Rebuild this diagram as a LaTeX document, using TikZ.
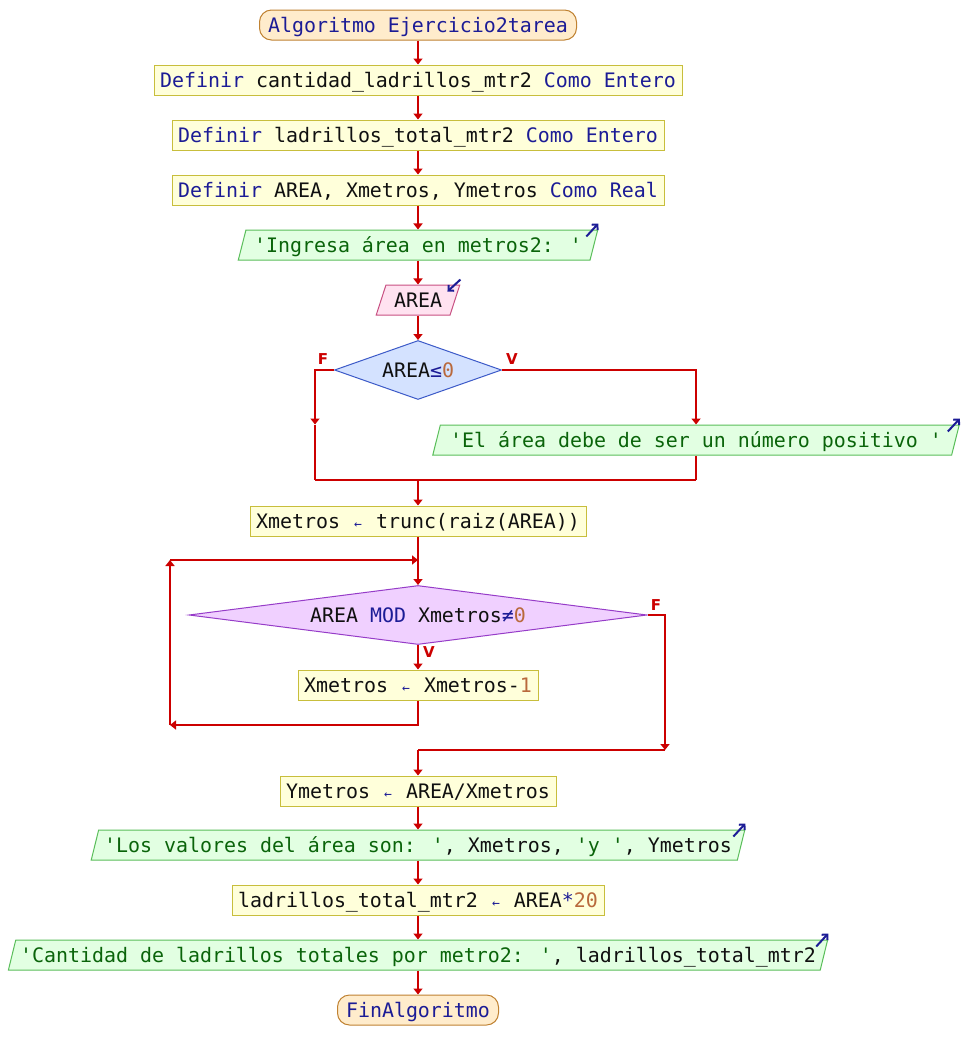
\documentclass[tikz,border=0pt]{standalone}
\usepackage{fontspec}
\newfontfamily\mono{DejaVu Sans Mono}[Ligatures=TeXOff]
\newfontfamily\lblfont{DejaVu Sans}
\usetikzlibrary{shapes.geometric,arrows.meta,calc}

% palette
\definecolor{kwblue}{RGB}{28,28,150}
\definecolor{idc}{RGB}{16,16,16}
\definecolor{strgreen}{RGB}{10,100,10}
\definecolor{numc}{RGB}{185,105,60}
\definecolor{flowred}{RGB}{204,0,0}
\definecolor{termfill}{RGB}{255,236,204}
\definecolor{termline}{RGB}{192,130,50}
\definecolor{procfill}{RGB}{255,255,218}
\definecolor{procline}{RGB}{200,190,60}
\definecolor{outfill}{RGB}{226,255,226}
\definecolor{outline}{RGB}{90,190,90}
\definecolor{infill}{RGB}{255,226,240}
\definecolor{inline}{RGB}{200,80,130}
\definecolor{d1fill}{RGB}{212,226,255}
\definecolor{d1line}{RGB}{60,90,200}
\definecolor{d2fill}{RGB}{240,208,255}
\definecolor{d2line}{RGB}{150,60,200}

% token colouring
\newcommand{\kw}[1]{\textcolor{kwblue}{#1}}
\newcommand{\st}[1]{\textcolor{strgreen}{#1}}
\newcommand{\nm}[1]{\textcolor{numc}{#1}}
\newcommand{\op}[1]{\textcolor{kwblue}{#1}}
\newcommand{\asg}{\textcolor{kwblue}{\makebox[12pt]{\fontsize{13}{13}\selectfont ←}}}

\tikzset{
  base/.style={font=\mono\fontsize{19.93}{24}\selectfont, text=idc, inner sep=0pt,
               minimum height=30pt, text height=17pt, text depth=3pt, line width=1pt},
  term/.style={base, rectangle, rounded corners=12pt, draw=termline, fill=termfill},
  proc/.style={base, rectangle, draw=procline, fill=procfill},
  outp/.style={base, trapezium, trapezium left angle=70, trapezium right angle=110,
               trapezium stretches=true, draw=outline, fill=outfill},
  inp/.style={base, trapezium, trapezium left angle=70, trapezium right angle=110,
              trapezium stretches=true, draw=inline, fill=infill},
  decA/.style={base, diamond, aspect=2.8, minimum height=59pt, draw=d1line, fill=d1fill},
  decB/.style={base, diamond, aspect=7.7, minimum height=59pt, draw=d2line, fill=d2fill},
  flow/.style={draw=flowred, line width=2pt},
  arr/.style={flow, -{Triangle[width=9pt,length=6pt]}},
  lbl/.style={text=flowred, font=\lblfont\bfseries\fontsize{15}{15}\selectfont, inner sep=0pt},
  iomark/.style={draw=kwblue, line width=2pt, -{Straight Barb[length=4pt,width=8pt]}}
}

\begin{document}
\begin{tikzpicture}[x=1pt,y=-1pt]
\useasboundingbox (0,0) rectangle (964,1060);
\fill[white] (0,0) rectangle (964,1060);

% nodes
\node[term, minimum width=317pt] (start) at (418,25) {\kw{Algoritmo Ejercicio2tarea}};
\node[proc, minimum width=528pt] (b2) at (418,80) {\kw{Definir} cantidad\_ladrillos\_mtr2 \kw{Como} \kw{Entero}};
\node[proc, minimum width=492pt] (b3) at (418,135) {\kw{Definir} ladrillos\_total\_mtr2 \kw{Como} \kw{Entero}};
\node[proc, minimum width=492pt] (b4) at (418,190) {\kw{Definir} AREA, Xmetros, Ymetros \kw{Como} \kw{Real}};
\node[outp, minimum width=360pt] (o1) at (418,245) {\st{'Ingresa área en metros2: '}};
\node[inp, minimum width=84pt] (i1) at (418,300) {AREA};
\node[decA, minimum width=167pt] (d1) at (418,370) {AREA\op{≤}\nm{0}};
\node[outp, minimum width=528pt] (o2) at (696,440) {\st{'El área debe de ser un número positivo '}};
\node[proc, minimum width=336pt] (b5) at (418,521) {Xmetros \asg{} trunc(raiz(AREA))};
\node[decB, minimum width=458pt] (d2) at (418,615) {AREA \kw{MOD} Xmetros\op{≠}\nm{0}};
\node[proc, minimum width=240pt] (b6) at (418,685) {Xmetros \asg{} Xmetros-\nm{1}};
\node[proc, minimum width=276pt] (b7) at (418,791) {Ymetros \asg{} AREA/Xmetros};
\node[outp, minimum width=660pt] (o3) at (418,845) {\st{'Los valores del área son: '}, Xmetros, \st{'y '}, Ymetros};
\node[proc, minimum width=372pt] (b8) at (418,900) {ladrillos\_total\_mtr2 \asg{} AREA\op{*}\nm{20}};
\node[outp, minimum width=828pt] (o4) at (418,955) {\st{'Cantidad de ladrillos totales por metro2: '}, ladrillos\_total\_mtr2};
\node[term, minimum width=161pt] (end) at (418,1010) {\kw{FinAlgoritmo}};

% branch labels
\node[lbl] (fA) at (323,359) {F};
\node[lbl] (vA) at (512,359) {V};
\node[lbl] (fB) at (656,605) {F};
\node[lbl] (vB) at (429,652) {V};

% routing points
\coordinate (fL) at (315,370);
\coordinate (jn) at (418,480);
\coordinate (lt) at (170,560);
\coordinate (lb) at (170,725);
\coordinate (xr) at (665,615);
\coordinate (xj) at (418,750);

% straight sequence
\draw[arr] (start) -- (b2);
\draw[arr] (b2) -- (b3);
\draw[arr] (b3) -- (b4);
\draw[arr] (b4.south) -- (b4.south |- o1.north);
\draw[arr] (b4.south |- o1.south) -- (b4.south |- i1.north);
\draw[arr] (b4.south |- i1.south) -- (d1.north);

% first decision
\draw[arr] (d1.west) -- (fL) -- (fL |- o2.north);
\draw[flow] (fL |- o2.north) -- (fL |- jn);
\draw[arr] (d1.east) -- (d1.east -| o2.north) -- (o2.north);
\draw[flow] (o2.south) -- (o2.south |- jn);
\draw[flow] (fL |- jn) -- (o2.south |- jn);
\draw[arr] (jn) -- (b5.north);

% loop
\draw[arr] (b5.south) -- (d2.north);
\draw[arr] (d2.south) -- (b6.north);
\draw[arr] (b6.south) -- (b6.south |- lb) -- (lb);
\draw[arr] (lb) -- (lt);
\draw[arr] (lt) -- (lt -| b5.south);
\draw[arr] (d2.east) -- (xr) -- (xr |- xj);
\draw[flow] (xr |- xj) -- (xj);
\draw[arr] (xj) -- (b7.north);

% tail
\draw[arr] (b7) -- (b7.south |- o3.north);
\draw[arr] (b7.south |- o3.south) -- (b8.north);
\draw[arr] (b8.south) -- (b8.south |- o4.north);
\draw[arr] (b8.south |- o4.south) -- (end.north);

% input / output markers
\foreach \n in {o1,o2,o3,o4}
  \draw[iomark] ($(\n.top right corner)+(-12,7)$) -- ($(\n.top right corner)+(0,-6)$);
\draw[iomark] ($(i1.top right corner)+(0,-5)$) -- ($(i1.top right corner)+(-13,7)$);
\end{tikzpicture}
\end{document}
